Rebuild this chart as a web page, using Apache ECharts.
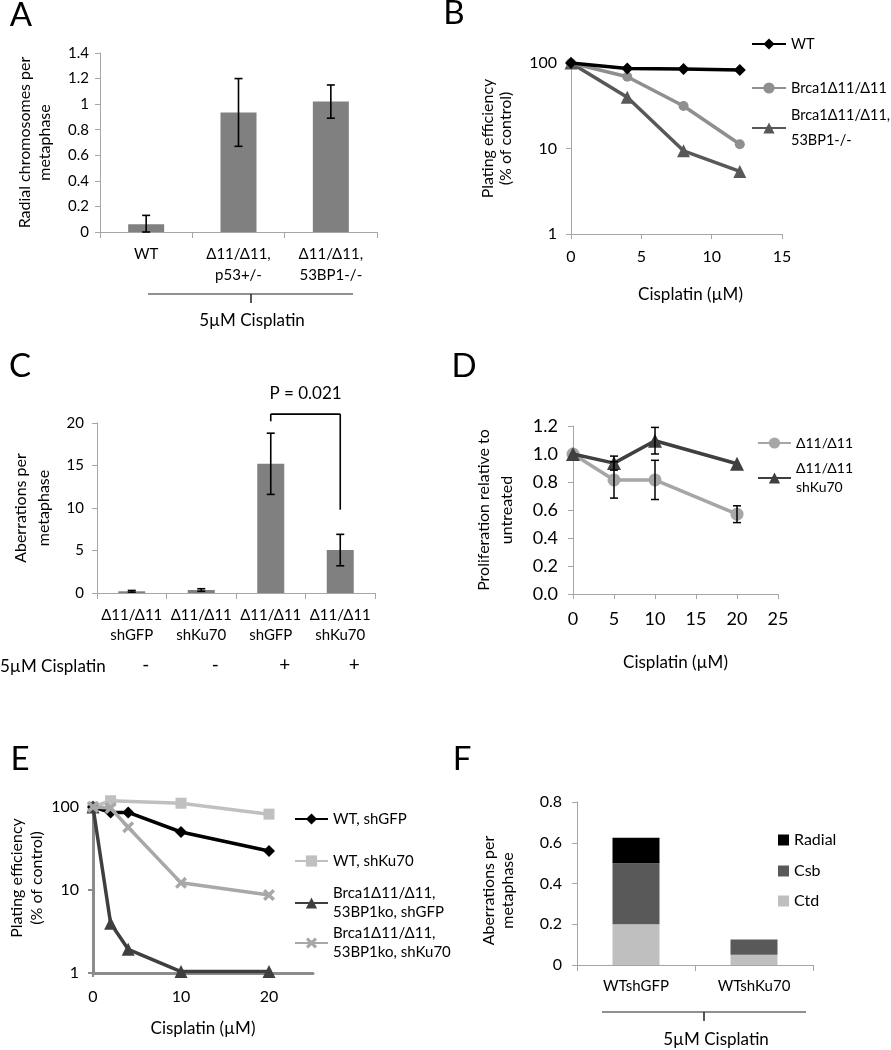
<!DOCTYPE html>
<html><head><meta charset="utf-8">
<script src="https://cdn.jsdelivr.net/npm/echarts@6/dist/echarts.min.js"></script>
<style>html,body{margin:0;padding:0;background:#fff}#c{width:891px;height:1050px}</style>
</head><body><div id="c"></div>
<script>
// ---------- Data ----------
// Panel A
const catA = ['WT', 'Δ11/Δ11,\np53+/-', 'Δ11/Δ11,\n53BP1-/-'];
const valA = [0.06, 0.935, 1.02];
const errA = [0.07, 0.265, 0.13];
// Panel B
const doseB = [0, 4, 8, 12];
const wtB = [100, 86.5, 85, 82.8];
const brcaB = [100, 69, 31.4, 11.2];
const brca53B = [100, 39.7, 9.4, 5.4];
// Panel C
const catC = ['Δ11/Δ11\nshGFP', 'Δ11/Δ11\nshKu70', 'Δ11/Δ11\nshGFP', 'Δ11/Δ11\nshKu70'];
const cisC = ['-', '-', '+', '+'];
const valC = [0.2, 0.35, 15.2, 5.05];
const errC = [0.1, 0.15, 3.6, 1.85];
// Panel D
const doseD = [0, 5, 10, 20];
const d11D = [1.0, 0.815, 0.815, 0.57];
const d11ErrD = [0, 0.13, 0.14, 0.06];
const kuD = [1.0, 0.935, 1.095, 0.93];
const kuErrD = [0, 0.05, 0.095, 0];
// Panel E
const doseE = [0, 2, 4, 10, 20];
const wtGfpE = [100, 86, 86, 50, 29.5];
const wtKuE = [100, 119, null, 111, 82];
const brcaGfpE = [100, 3.97, 1.93, 1.04, 1.04];
const brcaKuE = [100, 97, 57, 12.2, 8.7];
const ticksE = [0, 10, 20];
// Panel F
const catF = ['WTshGFP', 'WTshKu70'];
const ctdF = [0.2, 0.05];
const csbF = [0.3, 0.075];
const radialF = [0.125, 0];

// ---------- Styles ----------
const FONT = 'Lato, "Open Sans", "DejaVu Sans", sans-serif';
const TXT = '#000';
const AXC = '#a6a6a6';

const pairs = (xs, ys) => xs.map((x, i) => [x, ys[i]]);
const errData = (xs, ys, es) => xs.map((x, i) => [x, ys[i], es[i]]);

function errBar(cap, color, lw) {
  return function (params, api) {
    const x = api.value(0), y = api.value(1), e = api.value(2);
    if (!e) return;
    const top = api.coord([x, y + e]);
    const bot = api.coord([x, Math.max(y - e, 0)]);
    const h = cap / 2;
    const st = { stroke: color, lineWidth: lw };
    return { type: 'group', children: [
      { type: 'line', shape: { x1: top[0], y1: top[1], x2: bot[0], y2: bot[1] }, style: st },
      { type: 'line', shape: { x1: top[0] - h, y1: top[1], x2: top[0] + h, y2: top[1] }, style: st },
      { type: 'line', shape: { x1: bot[0] - h, y1: bot[1], x2: bot[0] + h, y2: bot[1] }, style: st }
    ]};
  };
}

function axLine(color, w) { return { show: true, lineStyle: { color: color || AXC, width: w || 1 } }; }
function axTick(len, color, w) { return { show: true, length: len || 5, lineStyle: { color: color || AXC, width: w || 1 } }; }
function yName(text, gap, fs, lh, pad) {
  return { name: text, nameLocation: 'middle', nameGap: gap, nameRotate: 90,
    nameTextStyle: { color: TXT, fontSize: fs, lineHeight: lh, fontFamily: FONT, padding: pad || 0 } };
}
function legendItem(name, left, cy, fs, opts) {
  opts = opts || {};
  const L = opts.lh || 19;
  const two = name.indexOf('\n') >= 0;
  return {
    data: [name], left: left, top: two ? cy - 1.5 * L : cy - L / 2,
    orient: 'vertical', padding: 0, selectedMode: false,
    itemWidth: opts.w || 33, itemHeight: opts.h || 14, icon: opts.icon,
    textStyle: { color: TXT, fontSize: fs, fontFamily: FONT, lineHeight: L, padding: two ? [L, 0, 0, 0] : 0 }
  };
}

const xSymbol = 'path://M2,0 L5,3 L8,0 L10,2 L7,5 L10,8 L8,10 L5,7 L2,10 L0,8 L3,5 L0,2 Z';

const option = {
  animation: false,
  backgroundColor: '#fff',
  textStyle: { fontFamily: FONT },
  grid: [
    { left: 100, top: 53, width: 277, height: 179 },   // A
    { left: 571, top: 63, width: 211, height: 171 },   // B
    { left: 97, top: 423, width: 278, height: 170 },   // C
    { left: 573, top: 426, width: 205, height: 168 },  // D
    { left: 93, top: 807, width: 220, height: 166 },   // E
    { left: 577, top: 802, width: 236, height: 163 }   // F
  ],
  xAxis: [
    { type: 'category', gridIndex: 0, data: catA, position: 'bottom',
      axisLine: axLine(), axisTick: axTick(6),
      axisLabel: { color: TXT, fontSize: 15, lineHeight: 21, margin: 12, interval: 0 } },
    { type: 'value', gridIndex: 1, min: 0, max: 15, interval: 5, position: 'bottom',
      axisLine: axLine(), axisTick: axTick(5), splitLine: { show: false },
      axisLabel: { color: TXT, fontSize: 16, margin: 15 },
      name: 'Cisplatin (µM)', nameLocation: 'middle', nameGap: 52,
      nameTextStyle: { color: TXT, fontSize: 17, padding: [0, 0, 0, 28] } },
    { type: 'category', gridIndex: 2, data: catC, position: 'bottom',
      axisLine: axLine(), axisTick: axTick(6),
      axisLabel: { color: TXT, fontSize: 15, lineHeight: 20, margin: 12, interval: 0 } },
    { type: 'category', gridIndex: 2, data: cisC, position: 'bottom',
      axisLine: { show: false }, axisTick: { show: false },
      axisLabel: { color: TXT, fontSize: 19, margin: 62, interval: 0, padding: [0, 0, 0, 28] } },
    { type: 'value', gridIndex: 3, min: 0, max: 25, interval: 5, position: 'bottom',
      axisLine: axLine(), axisTick: axTick(5), splitLine: { show: false },
      axisLabel: { color: TXT, fontSize: 18, margin: 16 },
      name: 'Cisplatin (µM)', nameLocation: 'middle', nameGap: 60,
      nameTextStyle: { color: TXT, fontSize: 17 } },
    { type: 'value', gridIndex: 4, min: 0, max: 25, interval: 10, position: 'bottom',
      axisLine: axLine('#8c8c8c', 3), axisTick: { show: true, length: 4, customValues: ticksE, lineStyle: { color: '#8c8c8c', width: 2 } },
      splitLine: { show: false },
      axisLabel: { color: TXT, fontSize: 16, margin: 16, customValues: ticksE },
      name: 'Cisplatin (µM)', nameLocation: 'middle', nameGap: 47,
      nameTextStyle: { color: TXT, fontSize: 17 } },
    { type: 'category', gridIndex: 5, data: catF, position: 'bottom',
      axisLine: axLine(), axisTick: axTick(6),
      axisLabel: { color: TXT, fontSize: 15, margin: 14, interval: 0 } }
  ],
  yAxis: [
    Object.assign({ type: 'value', gridIndex: 0, min: 0, max: 1.4, interval: 0.2,
      axisLine: axLine(), axisTick: axTick(5), splitLine: { show: false },
      axisLabel: { color: TXT, fontSize: 15, margin: 11 } },
      yName('Radial chromosomes per\nmetaphase', 45, 16, 20)),
    Object.assign({ type: 'log', logBase: 10, gridIndex: 1, min: 1, max: 100,
      axisLine: axLine(), axisTick: axTick(5), splitLine: { show: false }, minorTick: { show: false },
      axisLabel: { color: TXT, fontSize: 16, margin: 14 } },
      yName('Plating efficiency\n(% of control)', 56, 16, 18, [0, 0, 0, 20])),
    Object.assign({ type: 'value', gridIndex: 2, min: 0, max: 20, interval: 5,
      axisLine: axLine(), axisTick: axTick(5), splitLine: { show: false },
      axisLabel: { color: TXT, fontSize: 15, margin: 13 } },
      yName('Aberrations per\nmetaphase', 42, 16, 23)),
    Object.assign({ type: 'value', gridIndex: 3, min: 0, max: 1.2, interval: 0.2,
      axisLine: axLine(), axisTick: axTick(5), splitLine: { show: false },
      axisLabel: { color: TXT, fontSize: 18, margin: 15, formatter: v => v.toFixed(1) } },
      yName('Proliferation relative to\nuntreated', 55, 16, 23)),
    Object.assign({ type: 'log', logBase: 10, gridIndex: 4, min: 1, max: 100,
      axisLine: axLine('#8c8c8c', 3), axisTick: axTick(5, '#8c8c8c', 2), splitLine: { show: false },
      axisLabel: { color: TXT, fontSize: 16, margin: 14 } },
      yName('Plating efficiency\n(% of control)', 38, 16, 20, [0, 0, 0, 24])),
    Object.assign({ type: 'value', gridIndex: 5, min: 0, max: 0.8, interval: 0.2,
      axisLine: axLine(), axisTick: axTick(5), splitLine: { show: false },
      axisLabel: { color: TXT, fontSize: 16, margin: 15 } },
      yName('Aberrations per\nmetaphase', 60, 16, 19, [0, 14, 0, 0]))
  ],
  legend: [
    legendItem('WT', 751, 44, 14.5, { w: 34 }),
    legendItem('Brca1Δ11/Δ11', 751, 88, 14.5, { w: 34 }),
    legendItem('Brca1Δ11/Δ11,\n53BP1-/-', 751, 128, 14.5, { w: 34, lh: 25 }),
    legendItem('Δ11/Δ11', 757, 443, 14),
    legendItem('Δ11/Δ11\nshKu70', 757, 478, 14),
    legendItem('WT, shGFP', 294, 819, 15),
    legendItem('WT, shKu70', 294, 861, 15),
    legendItem('Brca1Δ11/Δ11,\n53BP1ko, shGFP', 294, 903, 15),
    legendItem('Brca1Δ11/Δ11,\n53BP1ko, shKu70', 294, 943, 15),
    legendItem('Radial', 778, 840, 16, { w: 11, h: 11, icon: 'rect' }),
    legendItem('Csb', 778, 871, 16, { w: 11, h: 11, icon: 'rect' }),
    legendItem('Ctd', 778, 901, 16, { w: 11, h: 11, icon: 'rect' })
  ],
  series: [
    // A
    { type: 'bar', xAxisIndex: 0, yAxisIndex: 0, data: valA, barWidth: 36, itemStyle: { color: '#808080' }, silent: true },
    { type: 'custom', xAxisIndex: 0, yAxisIndex: 0, z: 5, data: errData(catA.map((c, i) => i), valA, errA),
      encode: { x: 0, y: 1 }, renderItem: errBar(8, '#000', 1.6), silent: true },
    // B
    { type: 'line', name: 'WT', xAxisIndex: 1, yAxisIndex: 1, data: pairs(doseB, wtB), clip: false,
      symbol: 'diamond', symbolSize: 12, lineStyle: { width: 3.5, color: '#000' }, itemStyle: { color: '#000' }, z: 4 },
    { type: 'line', name: 'Brca1Δ11/Δ11', xAxisIndex: 1, yAxisIndex: 1, data: pairs(doseB, brcaB), clip: false,
      symbol: 'circle', symbolSize: 10, lineStyle: { width: 3.5, color: '#8f8f8f' }, itemStyle: { color: '#8f8f8f' }, z: 3 },
    { type: 'line', name: 'Brca1Δ11/Δ11,\n53BP1-/-', xAxisIndex: 1, yAxisIndex: 1, data: pairs(doseB, brca53B), clip: false,
      symbol: 'triangle', symbolSize: 13, lineStyle: { width: 3.5, color: '#585858' }, itemStyle: { color: '#585858' }, z: 2 },
    // C
    { type: 'bar', xAxisIndex: 2, yAxisIndex: 2, data: valC, barWidth: 27, itemStyle: { color: '#808080' }, silent: true },
    { type: 'custom', xAxisIndex: 2, yAxisIndex: 2, z: 5, data: errData(catC.map((c, i) => i), valC, errC),
      encode: { x: 0, y: 1 }, renderItem: errBar(8, '#000', 1.6), silent: true },
    // D
    { type: 'line', name: 'Δ11/Δ11', xAxisIndex: 4, yAxisIndex: 3, data: pairs(doseD, d11D), clip: false,
      symbol: 'circle', symbolSize: 13, lineStyle: { width: 3.5, color: '#a6a6a6' }, itemStyle: { color: '#a6a6a6' }, z: 2 },
    { type: 'line', name: 'Δ11/Δ11\nshKu70', xAxisIndex: 4, yAxisIndex: 3, data: pairs(doseD, kuD), clip: false,
      symbol: 'triangle', symbolSize: 14, lineStyle: { width: 3.5, color: '#3f3f3f' }, itemStyle: { color: '#3f3f3f' }, z: 3 },
    { type: 'custom', xAxisIndex: 4, yAxisIndex: 3, z: 6, data: errData(doseD, d11D, d11ErrD),
      encode: { x: 0, y: 1 }, renderItem: errBar(8, '#000', 1.5), silent: true },
    { type: 'custom', xAxisIndex: 4, yAxisIndex: 3, z: 6, data: errData(doseD, kuD, kuErrD),
      encode: { x: 0, y: 1 }, renderItem: errBar(8, '#000', 1.5), silent: true },
    // E
    { type: 'line', name: 'WT, shKu70', xAxisIndex: 5, yAxisIndex: 4, data: pairs(doseE, wtKuE), connectNulls: true, clip: false,
      symbol: 'rect', symbolSize: 11, lineStyle: { width: 3.5, color: '#c0c0c0' }, itemStyle: { color: '#c0c0c0' }, z: 2 },
    { type: 'line', name: 'WT, shGFP', xAxisIndex: 5, yAxisIndex: 4, data: pairs(doseE, wtGfpE), clip: false,
      symbol: 'diamond', symbolSize: 12, lineStyle: { width: 3.5, color: '#000' }, itemStyle: { color: '#000' }, z: 3 },
    { type: 'line', name: 'Brca1Δ11/Δ11,\n53BP1ko, shGFP', xAxisIndex: 5, yAxisIndex: 4, data: pairs(doseE, brcaGfpE), clip: false,
      symbol: 'triangle', symbolSize: 13, lineStyle: { width: 3.5, color: '#3f3f3f' }, itemStyle: { color: '#3f3f3f' }, z: 3 },
    { type: 'line', name: 'Brca1Δ11/Δ11,\n53BP1ko, shKu70', xAxisIndex: 5, yAxisIndex: 4, data: pairs(doseE, brcaKuE), clip: false,
      symbol: xSymbol, symbolSize: 12, lineStyle: { width: 3.5, color: '#a8a8a8' }, itemStyle: { color: '#a8a8a8' }, z: 4 },
    // F
    { type: 'bar', name: 'Ctd', stack: 'f', xAxisIndex: 6, yAxisIndex: 5, data: ctdF, barWidth: 47, itemStyle: { color: '#bfbfbf' } },
    { type: 'bar', name: 'Csb', stack: 'f', xAxisIndex: 6, yAxisIndex: 5, data: csbF, barWidth: 47, itemStyle: { color: '#595959' } },
    { type: 'bar', name: 'Radial', stack: 'f', xAxisIndex: 6, yAxisIndex: 5, data: radialF, barWidth: 47, itemStyle: { color: '#000' } }
  ]
};

const chart = echarts.init(document.getElementById('c'), null, { renderer: 'canvas' });
chart.setOption(option);

// ---------- Annotations ----------
function txt(x, y, s, fs, align) {
  return { type: 'text', x: x, y: y, silent: true,
    style: { text: s, fontSize: fs, fontFamily: FONT, fill: TXT,
      align: align || 'center', textAlign: align || 'center', verticalAlign: 'middle', textVerticalAlign: 'middle' } };
}
function ln(x1, y1, x2, y2, w, c) {
  return { type: 'line', silent: true, shape: { x1: x1, y1: y1, x2: x2, y2: y2 }, style: { stroke: c || '#222', lineWidth: w || 1.2 } };
}
const pc = (i, v) => chart.convertToPixel({ xAxisIndex: 2, yAxisIndex: 2 }, [i, v]);
const bL0 = pc(2, 20.2), bL1 = pc(2, 21.05), bR1 = pc(3, 21.05), bR0 = pc(3, 9.8);

const els = [
  txt(21, 15, 'A', 33), txt(454, 13, 'B', 33), txt(20, 366, 'C', 33),
  txt(464, 366, 'D', 33), txt(20, 759, 'E', 33), txt(462, 759, 'F', 33),
  // A group bracket
  ln(148, 294, 353, 294, 1.2), ln(251, 294, 251, 303, 1.5), txt(252, 321, '5µM Cisplatin', 17),
  // C
  txt(0, 667, '5µM Cisplatin', 17, 'left'),
  ln(bL0[0], bL0[1], bL1[0], bL1[1], 1.6, '#000'), ln(bL1[0], bL1[1], bR1[0], bR1[1], 1.6, '#000'),
  ln(bR1[0], bR1[1], bR0[0], bR0[1], 1.6, '#000'),
  txt((bL1[0] + bR1[0]) / 2, bL1[1] - 21, 'P = 0.021', 17),
  // F group bracket
  ln(602, 1012, 806, 1012, 1.2), ln(704, 1012, 704, 1021, 1.5), txt(716, 1040, '5µM Cisplatin', 17)
];
chart.setOption({ graphic: { elements: els } });
</script>
</body></html>
